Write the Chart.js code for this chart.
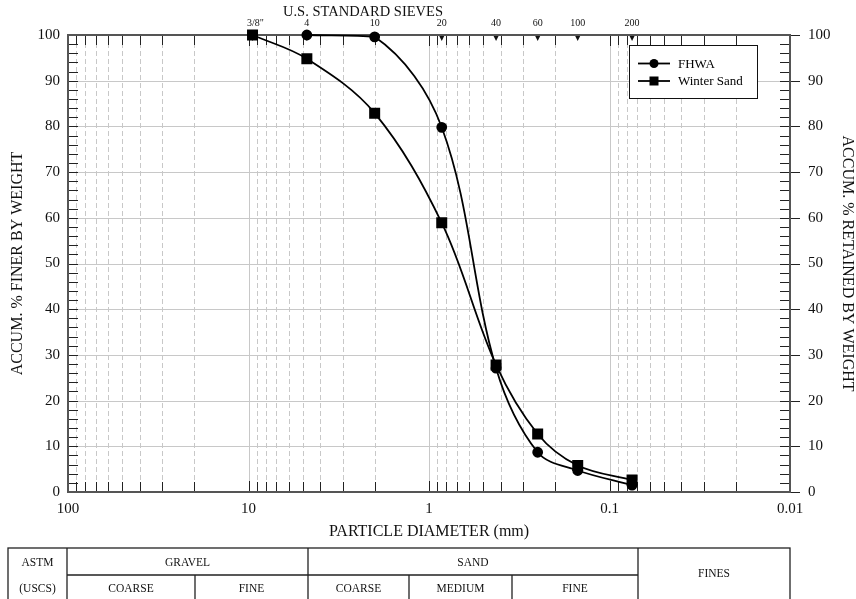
<!DOCTYPE html>
<html>
<head>
<meta charset="utf-8">
<script src="https://cdn.jsdelivr.net/npm/chart.js@4/dist/chart.umd.min.js"></script>
<style>
  html, body { margin: 0; padding: 0; background: #fff; }
  #wrap { width: 856px; height: 599px; }
</style>
</head>
<body>
<div id="wrap"><canvas id="c" width="856" height="599"></canvas></div>
<script>
// ---- data ----
const sieveLabels = ['3/8"', '4', '10', '20', '40', '60', '100', '200'];
const sieveSizes = [9.5, 4.75, 2.0, 0.85, 0.425, 0.25, 0.15, 0.075];

const fhwaSizes = [4.75, 2.0, 0.85, 0.425, 0.25, 0.15, 0.075];
const fhwaFiner = [100, 99.6, 79.8, 27.1, 8.7, 4.7, 1.5];

const winterSizes = [9.5, 4.75, 2.0, 0.85, 0.425, 0.25, 0.15, 0.075];
const winterFiner = [100, 94.8, 82.9, 58.9, 27.8, 12.7, 5.8, 2.6];

const xTicks = [100, 10, 1, 0.1, 0.01];
const xTickLabels = ['100', '10', '1', '0.1', '0.01'];
const yTicks = [0, 10, 20, 30, 40, 50, 60, 70, 80, 90, 100];

const tableTop = ['ASTM', 'GRAVEL', 'SAND', 'FINES'];
const tableBottom = ['(USCS)', 'COARSE', 'FINE', 'COARSE', 'MEDIUM', 'FINE'];

const SERIF = '"Liberation Serif", "DejaVu Serif", serif';

function pts(xs, ys) {
  return xs.map((x, i) => ({ x: x, y: ys[i] }));
}

/* ===========================
   AXES, GRID, LABELS (plugin)
=========================== */
const gridPlugin = {
  id: 'gradGrid',
  beforeDatasetsDraw(chart) {
    const { ctx, chartArea: a, scales } = chart;
    const xs = scales.x, ys = scales.y;
    ctx.save();

    // horizontal grid
    ctx.strokeStyle = '#c8c8c8';
    ctx.lineWidth = 1;
    yTicks.forEach(v => {
      if (v === 0 || v === 100) return;
      const y = Math.round(ys.getPixelForValue(v)) + 0.5;
      ctx.beginPath(); ctx.moveTo(a.left, y); ctx.lineTo(a.right, y); ctx.stroke();
    });

    // vertical grid: decades solid, minors dashed
    const decades = [0.01, 0.1, 1, 10];
    decades.forEach(d => {
      for (let m = 1; m <= 9; m++) {
        const v = m * d;
        if (v <= 0.01 || v >= 100) continue;
        const x = Math.round(xs.getPixelForValue(v)) + 0.5;
        ctx.setLineDash(m === 1 ? [] : [5, 3]);
        ctx.strokeStyle = '#c8c8c8';
        ctx.beginPath(); ctx.moveTo(x, a.top); ctx.lineTo(x, a.bottom); ctx.stroke();
        ctx.setLineDash([]);
        // ticks top & bottom
        ctx.strokeStyle = '#222';
        const len = m === 1 ? 11 : 10;
        ctx.beginPath();
        ctx.moveTo(x, a.bottom); ctx.lineTo(x, a.bottom - len);
        ctx.moveTo(x, a.top); ctx.lineTo(x, a.top + len);
        ctx.stroke();
      }
    });

    // y ticks every 2
    ctx.strokeStyle = '#222';
    for (let v = 0; v <= 100; v += 2) {
      const y = Math.round(ys.getPixelForValue(v)) + 0.5;
      ctx.beginPath();
      ctx.moveTo(a.left, y); ctx.lineTo(a.left + 10, y);
      ctx.moveTo(a.right, y); ctx.lineTo(a.right - 10, y);
      if (v % 10 === 0) { ctx.moveTo(a.right, y); ctx.lineTo(a.right + 10, y); }
      ctx.stroke();
    }

    // frame
    ctx.strokeStyle = '#555';
    ctx.lineWidth = 2;
    ctx.strokeRect(a.left, a.top, a.right - a.left, a.bottom - a.top);

    // sieve triangles
    ctx.fillStyle = '#111';
    sieveSizes.forEach(s => {
      const x = xs.getPixelForValue(s);
      ctx.beginPath();
      ctx.moveTo(x - 2.5, a.top + 1);
      ctx.lineTo(x + 2.5, a.top + 1);
      ctx.lineTo(x, a.top + 6);
      ctx.closePath(); ctx.fill();
    });
    ctx.restore();
  },
  afterDraw(chart) {
    const { ctx, chartArea: a, scales } = chart;
    const xs = scales.x, ys = scales.y;
    ctx.save();
    ctx.fillStyle = '#111';
    ctx.textBaseline = 'middle';

    // y tick labels
    ctx.font = '15px ' + SERIF;
    yTicks.forEach(v => {
      const y = ys.getPixelForValue(v);
      ctx.textAlign = 'right';
      ctx.fillText(String(v), a.left - 8, y);
      ctx.textAlign = 'left';
      ctx.fillText(String(v), a.right + 18, y);
    });

    // x tick labels
    ctx.textAlign = 'center';
    xTicks.forEach((v, i) => {
      ctx.fillText(xTickLabels[i], xs.getPixelForValue(v), a.bottom + 17);
    });

    // axis titles
    ctx.font = '16px ' + SERIF;
    ctx.fillText('PARTICLE DIAMETER (mm)', (a.left + a.right) / 2, a.bottom + 40);
    const midY = (a.top + a.bottom) / 2;
    ctx.save();
    ctx.translate(18, midY); ctx.rotate(-Math.PI / 2);
    ctx.fillText('ACCUM. % FINER BY WEIGHT', 0, 0);
    ctx.restore();
    ctx.save();
    ctx.translate(847, midY); ctx.rotate(Math.PI / 2);
    ctx.fillText('ACCUM. % RETAINED BY WEIGHT', 0, 0);
    ctx.restore();

    // sieve labels
    ctx.font = '14.5px ' + SERIF;
    ctx.fillText('U.S. STANDARD SIEVES', 363, 12);
    ctx.font = '10px ' + SERIF;
    sieveSizes.forEach((s, i) => {
      ctx.fillText(sieveLabels[i], xs.getPixelForValue(s) + (i === 0 ? 3 : 0), 23);
    });

    // legend
    const lx = 629, ly = 45, lw = 128, lh = 53;
    ctx.fillStyle = '#fff';
    ctx.fillRect(lx, ly, lw, lh);
    ctx.strokeStyle = '#111';
    ctx.lineWidth = 1;
    ctx.strokeRect(lx + 0.5, ly + 0.5, lw, lh);
    const entries = [
      { name: 'FHWA', y: 63.5, style: 'circle' },
      { name: 'Winter Sand', y: 81, style: 'rect' }
    ];
    entries.forEach(e => {
      ctx.strokeStyle = '#000';
      ctx.lineWidth = 1.8;
      ctx.beginPath(); ctx.moveTo(638, e.y); ctx.lineTo(670, e.y); ctx.stroke();
      ctx.fillStyle = '#000';
      if (e.style === 'circle') {
        ctx.beginPath(); ctx.arc(654, e.y, 4.5, 0, Math.PI * 2); ctx.fill();
      } else {
        ctx.fillRect(649.5, e.y - 4.5, 9, 9);
      }
      ctx.font = '13px ' + SERIF;
      ctx.textAlign = 'left';
      ctx.fillText(e.name, 678, e.y + 1);
    });

    // classification table
    const cols = [8, 67, 195, 308, 409, 512, 638, 790];
    const t0 = 548, t1 = 575, t2 = 603;
    ctx.strokeStyle = '#222';
    ctx.lineWidth = 1.3;
    ctx.strokeRect(cols[0], t0, cols[7] - cols[0], t2 - t0);
    ctx.beginPath();
    ctx.moveTo(cols[1], t1); ctx.lineTo(cols[6], t1);
    [1, 3, 6].forEach(i => { ctx.moveTo(cols[i], t0); ctx.lineTo(cols[i], t2); });
    [2, 4, 5].forEach(i => { ctx.moveTo(cols[i], t1); ctx.lineTo(cols[i], t2); });
    ctx.stroke();
    ctx.fillStyle = '#111';
    ctx.font = '11.5px ' + SERIF;
    ctx.textAlign = 'center';
    const r1 = (t0 + t1) / 2 + 1, r2 = (t1 + t2) / 2;
    ctx.fillText(tableTop[0], (cols[0] + cols[1]) / 2, r1);
    ctx.fillText(tableTop[1], (cols[1] + cols[3]) / 2, r1);
    ctx.fillText(tableTop[2], (cols[3] + cols[6]) / 2, r1);
    ctx.fillText(tableTop[3], (cols[6] + cols[7]) / 2, 574);
    ctx.fillText(tableBottom[0], (cols[0] + cols[1]) / 2, r2);
    for (let i = 1; i < 6; i++) {
      ctx.fillText(tableBottom[i], (cols[i] + cols[i + 1]) / 2, r2);
    }
    ctx.restore();
  }
};

const chart = new Chart(document.getElementById('c'), {
  type: 'line',
  data: {
    datasets: [
      {
        label: 'FHWA',
        data: pts(fhwaSizes, fhwaFiner),
        borderColor: '#000',
        backgroundColor: '#000',
        borderWidth: 1.8,
        pointStyle: 'circle',
        pointRadius: 4.5,
        tension: 0.35,
        clip: false
      },
      {
        label: 'Winter Sand',
        data: pts(winterSizes, winterFiner),
        borderColor: '#000',
        backgroundColor: '#000',
        borderWidth: 1.8,
        pointStyle: 'rect',
        pointRadius: 6.5,
        tension: 0.35,
        clip: false
      }
    ]
  },
  options: {
    responsive: false,
    animation: false,
    layout: { padding: { left: 68, right: 66, top: 35, bottom: 107 } },
    plugins: { legend: { display: false }, tooltip: { enabled: false } },
    scales: {
      x: { type: 'logarithmic', reverse: true, min: 0.01, max: 100, display: false },
      y: { type: 'linear', min: 0, max: 100, display: false }
    }
  },
  plugins: [gridPlugin]
});
</script>
</body>
</html>
